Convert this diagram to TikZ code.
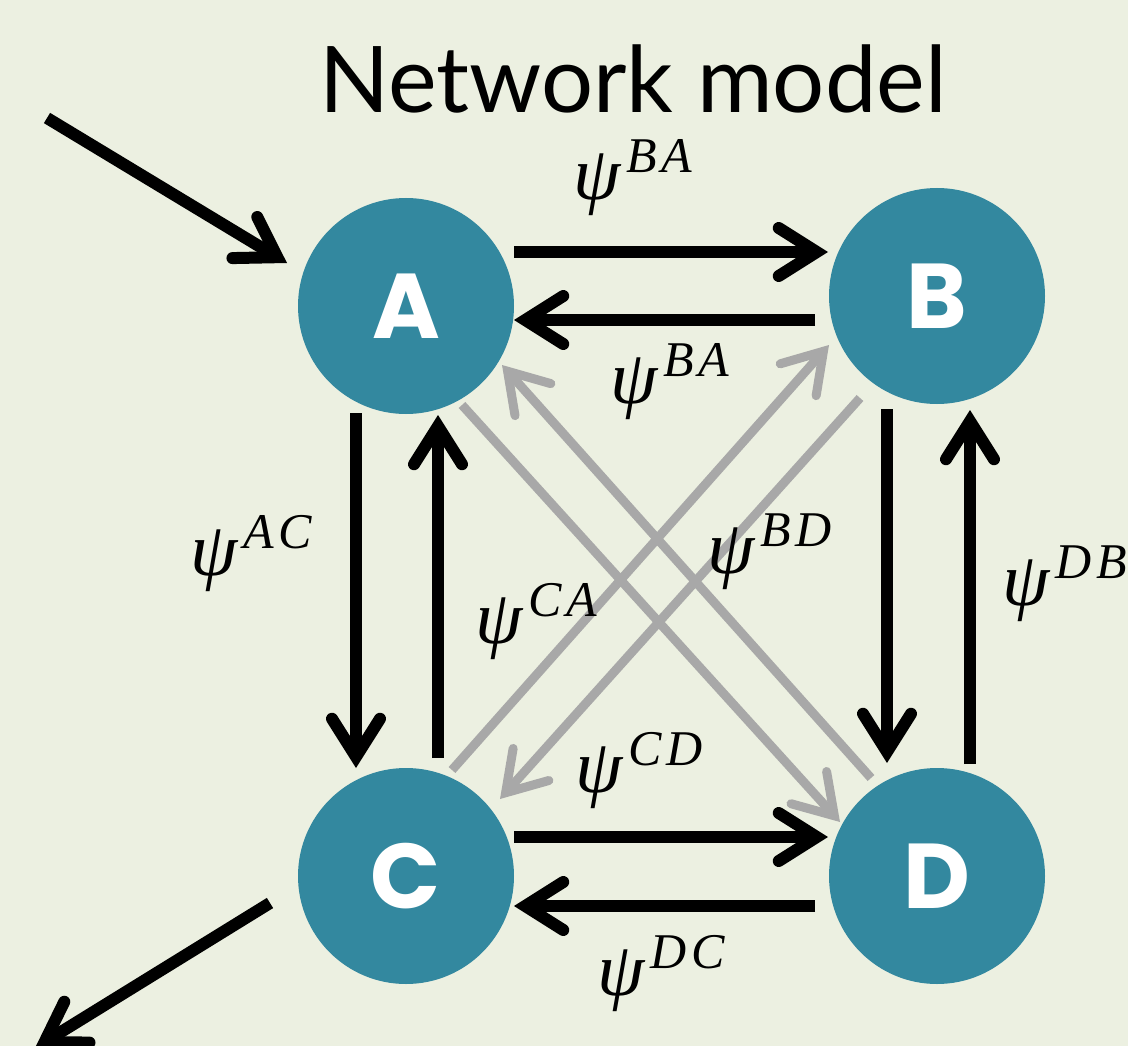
\documentclass[tikz,border=0pt]{standalone}
\usepackage{fontspec}
\setmainfont{Lato}
\newfontfamily\hubfont{Poppins}
\newfontfamily\labfont{Liberation Serif}
\newfontfamily\suplabfont{Liberation Serif}[LetterSpace=9]
\usetikzlibrary{arrows.meta,calc}

\definecolor{paper}{RGB}{236,240,225}
\definecolor{hubteal}{RGB}{51,136,159}
\definecolor{crossgray}{RGB}{168,168,168}

% psi label with a raised superscript pair
\newcommand{\psilab}[1]{{\labfont\itshape\fontsize{76}{76}\selectfont ψ}\kern6pt\raisebox{27pt}{\suplabfont\itshape\fontsize{50}{50}\selectfont #1}}

\tikzset{
  hub/.style={circle, fill=hubteal, minimum size=216pt, inner sep=0pt,
    text=white, font=\hubfont\bfseries\fontsize{92}{92}\selectfont},
  chev/.tip={Straight Barb[length=38pt, width=48pt, line cap=round, line join=miter]},
  flow/.style={line width=12pt, draw=black, -chev},
  cross/.style={line width=9pt, draw=crossgray, -chev},
  lab/.style={anchor=base west, inner sep=0pt, text=black}
}

\begin{document}
\begin{tikzpicture}[x=1pt, y=-1pt]
\useasboundingbox (0,0) rectangle (1128,1046);
\fill[paper] (0,0) rectangle (1128,1046);

% title
\node[anchor=base, inner sep=0pt, font=\fontsize{92}{92}\selectfont] (title) at (633,113) {Network model};

% the four nodes
\node[hub] (A) at (406,306) {A};
\node[hub] (B) at (937,296) {B};
\node[hub] (C) at (406,876) {C};
\node[hub] (D) at (937,876) {D};

% diagonal links
\draw[cross] ($(D)+(-66,-98)$) -- ($(A)+(96,59)$);
\draw[cross] ($(C)+(46,-106)$) -- ($(B)+(-108,49)$);
\draw[cross] ($(B)+(-77,102)$) -- ($(C)+(94,-77)$);
\draw[cross] ($(A)+(56,99)$) -- ($(D)+(-97,-54)$);

% horizontal links
\draw[flow] ($(A)+(108,-54)$) -- ($(B)+(-109,-44)$);
\draw[flow] ($(B)+(-122,24)$) -- ($(A)+(108,14)$);
\draw[flow] ($(C)+(108,-39)$) -- ($(D)+(-109,-39)$);
\draw[flow] ($(D)+(-122,30)$) -- ($(C)+(108,30)$);

% vertical links
\draw[flow] ($(A)+(-50,107)$) -- ($(C)+(-50,-108)$);
\draw[flow] ($(C)+(32,-118)$) -- ($(A)+(32,109)$);
\draw[flow] ($(B)+(-50,113)$) -- ($(D)+(-50,-113)$);
\draw[flow] ($(D)+(33,-112)$) -- ($(B)+(33,114)$);

% input and output
\coordinate (src) at (47,118);
\coordinate (sink) at (35,1048);
\draw[flow] (src) -- ($(A)+(-119,-43)$);
\draw[flow] ($(C)+(-136,27)$) -- (sink);

% labels
\node[lab] (lBAt) at (573,200) {\psilab{BA}};
\node[lab] (lBAb) at (610,403) {\psilab{BA}};
\node[lab] (lAC) at (190,575) {\psilab{AC}};
\node[lab] (lCA) at (475,643) {\psilab{CA}};
\node[lab] (lBD) at (707,573) {\psilab{BD}};
\node[lab] (lDB) at (1002,605) {\psilab{DB}};
\node[lab] (lCD) at (575,792) {\psilab{CD}};
\node[lab] (lDC) at (597,995) {\psilab{DC}};
\end{tikzpicture}
\end{document}
